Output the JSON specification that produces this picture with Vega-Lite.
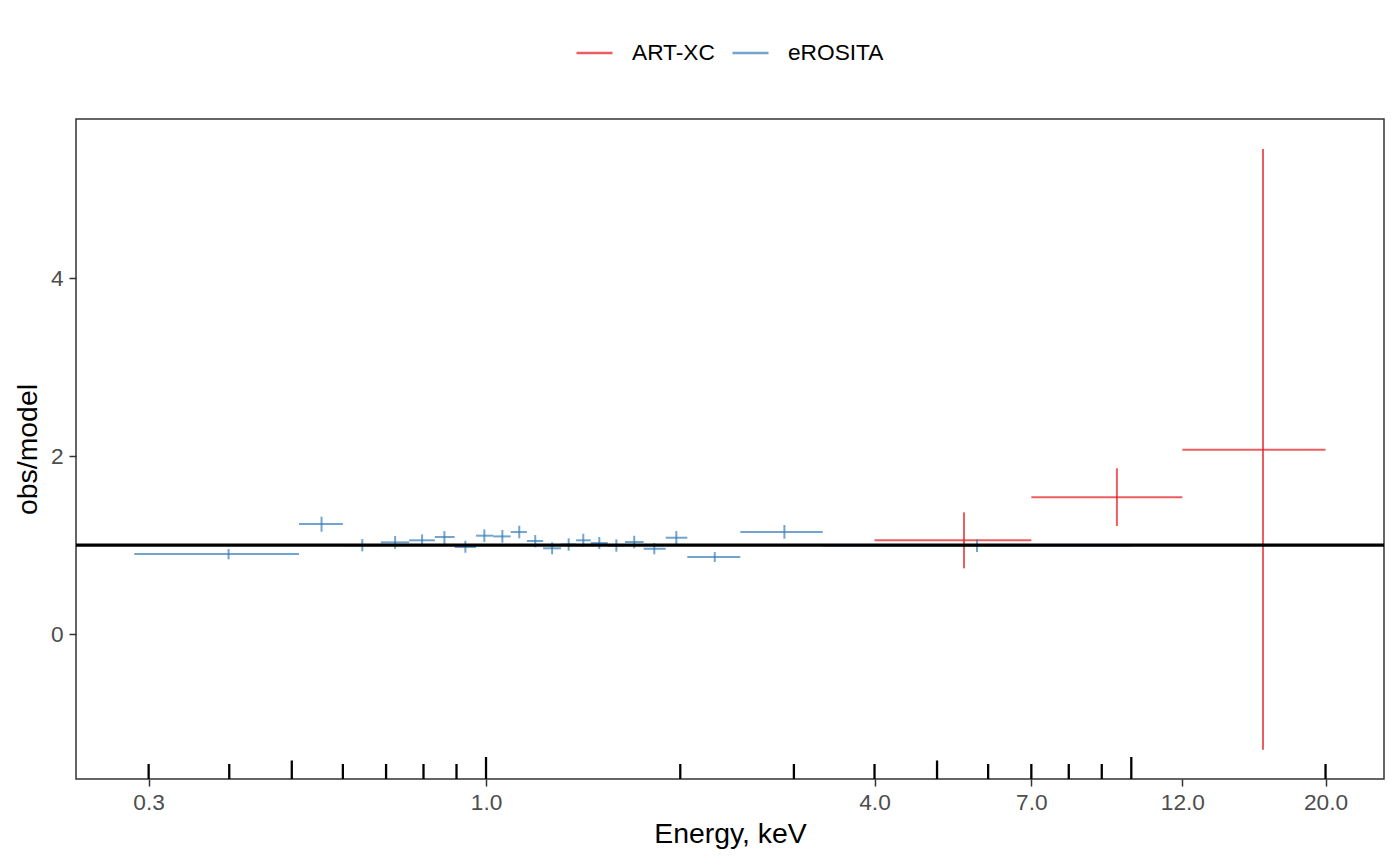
{
  "$schema": "https://vega.github.io/schema/vega-lite/v6.json",
  "width": 1308,
  "height": 660,
  "autosize": {"type": "none"},
  "padding": {"left": 76, "top": 119, "right": 16, "bottom": 86},
  "background": "white",
  "config": {
    "font": "Liberation Sans",
    "view": {"stroke": "#333333", "strokeWidth": 1.5},
    "axis": {
      "grid": false,
      "domain": false,
      "tickColor": "#333333",
      "tickWidth": 1.5,
      "tickSize": 7,
      "labelFontSize": 22.7,
      "labelColor": "#4D4D4D",
      "titleFontSize": 28.4,
      "titleFontWeight": "normal",
      "titleColor": "black",
      "labelPadding": 5,
      "titlePadding": 7
    }
  },
  "datasets": {
    "spec": [
      {"inst": "eROSITA", "E": 0.399, "Emin": 0.285, "Emax": 0.513, "ratio": 0.899, "lo": 0.839, "hi": 0.955},
      {"inst": "eROSITA", "E": 0.556, "Emin": 0.513, "Emax": 0.600, "ratio": 1.236, "lo": 1.149, "hi": 1.318},
      {"inst": "eROSITA", "E": 0.643, "Emin": 0.600, "Emax": 0.687, "ratio": 0.998, "lo": 0.929, "hi": 1.067},
      {"inst": "eROSITA", "E": 0.723, "Emin": 0.687, "Emax": 0.760, "ratio": 1.030, "lo": 0.958, "hi": 1.101},
      {"inst": "eROSITA", "E": 0.796, "Emin": 0.760, "Emax": 0.833, "ratio": 1.053, "lo": 1.008, "hi": 1.120},
      {"inst": "eROSITA", "E": 0.862, "Emin": 0.833, "Emax": 0.894, "ratio": 1.090, "lo": 1.011, "hi": 1.157},
      {"inst": "eROSITA", "E": 0.929, "Emin": 0.894, "Emax": 0.965, "ratio": 0.978, "lo": 0.913, "hi": 1.048},
      {"inst": "eROSITA", "E": 0.994, "Emin": 0.965, "Emax": 1.026, "ratio": 1.105, "lo": 1.034, "hi": 1.176},
      {"inst": "eROSITA", "E": 1.060, "Emin": 1.026, "Emax": 1.092, "ratio": 1.097, "lo": 1.026, "hi": 1.169},
      {"inst": "eROSITA", "E": 1.126, "Emin": 1.092, "Emax": 1.157, "ratio": 1.146, "lo": 1.075, "hi": 1.217},
      {"inst": "eROSITA", "E": 1.192, "Emin": 1.157, "Emax": 1.226, "ratio": 1.045, "lo": 0.974, "hi": 1.112},
      {"inst": "eROSITA", "E": 1.266, "Emin": 1.226, "Emax": 1.307, "ratio": 0.963, "lo": 0.896, "hi": 1.030},
      {"inst": "eROSITA", "E": 1.343, "Emin": 1.307, "Emax": 1.379, "ratio": 1.006, "lo": 0.936, "hi": 1.075},
      {"inst": "eROSITA", "E": 1.415, "Emin": 1.379, "Emax": 1.453, "ratio": 1.053, "lo": 0.978, "hi": 1.127},
      {"inst": "eROSITA", "E": 1.498, "Emin": 1.453, "Emax": 1.544, "ratio": 1.022, "lo": 0.955, "hi": 1.090},
      {"inst": "eROSITA", "E": 1.592, "Emin": 1.544, "Emax": 1.642, "ratio": 0.994, "lo": 0.925, "hi": 1.064},
      {"inst": "eROSITA", "E": 1.697, "Emin": 1.642, "Emax": 1.755, "ratio": 1.034, "lo": 0.963, "hi": 1.104},
      {"inst": "eROSITA", "E": 1.823, "Emin": 1.755, "Emax": 1.899, "ratio": 0.958, "lo": 0.896, "hi": 1.022},
      {"inst": "eROSITA", "E": 1.972, "Emin": 1.899, "Emax": 2.051, "ratio": 1.082, "lo": 1.011, "hi": 1.157},
      {"inst": "eROSITA", "E": 2.262, "Emin": 2.051, "Emax": 2.478, "ratio": 0.865, "lo": 0.809, "hi": 0.921},
      {"inst": "eROSITA", "E": 2.900, "Emin": 2.478, "Emax": 3.325, "ratio": 1.146, "lo": 1.071, "hi": 1.225},
      {"inst": "eROSITA", "E": 5.766, "Emin": 3.325, "Emax": 10.0, "ratio": 0.995, "lo": 0.921, "hi": 1.064},
      {"inst": "ART-XC", "E": 5.505, "Emin": 4.0, "Emax": 7.0, "ratio": 1.053, "lo": 0.738, "hi": 1.367},
      {"inst": "ART-XC", "E": 9.50, "Emin": 7.0, "Emax": 12.0, "ratio": 1.536, "lo": 1.213, "hi": 1.862},
      {"inst": "ART-XC", "E": 16.0, "Emin": 12.0, "Emax": 20.0, "ratio": 2.071, "lo": -1.30, "hi": 5.449}
    ],
    "logticks": [
      {"E": 0.3, "kind": "short"},
      {"E": 0.4, "kind": "short"},
      {"E": 0.5, "kind": "mid"},
      {"E": 0.6, "kind": "short"},
      {"E": 0.7, "kind": "short"},
      {"E": 0.8, "kind": "short"},
      {"E": 0.9, "kind": "short"},
      {"E": 1, "kind": "long"},
      {"E": 2, "kind": "short"},
      {"E": 3, "kind": "short"},
      {"E": 4, "kind": "short"},
      {"E": 5, "kind": "mid"},
      {"E": 6, "kind": "short"},
      {"E": 7, "kind": "short"},
      {"E": 8, "kind": "short"},
      {"E": 9, "kind": "short"},
      {"E": 10, "kind": "long"},
      {"E": 20, "kind": "short"}
    ]
  },
  "layer": [
    {
      "data": {"name": "spec"},
      "mark": {"type": "rule", "strokeWidth": 2, "opacity": 0.7},
      "encoding": {
        "x": {
          "field": "Emin", "type": "quantitative",
          "scale": {"type": "log", "domain": [0.2315, 24.64], "nice": false},
          "axis": {"values": [0.3, 1, 4, 7, 12, 20], "format": ".1f", "labelFlush": false, "labelOverlap": false},
          "title": "Energy, keV"
        },
        "x2": {"field": "Emax"},
        "y": {
          "field": "ratio", "type": "quantitative",
          "scale": {"domain": [-1.629, 5.787], "nice": false, "zero": false},
          "axis": {"values": [0, 2, 4], "format": "d", "labelPadding": 6, "titlePadding": 8},
          "title": "obs/model"
        },
        "color": {
          "field": "inst", "type": "nominal",
          "scale": {"domain": ["ART-XC", "eROSITA"], "range": ["#E41A1C", "#377EB8"]},
          "title": null,
          "legend": {
            "orient": "none", "legendX": 499, "legendY": -86,
            "direction": "horizontal",
            "symbolType": "stroke", "symbolSize": 1296, "symbolStrokeWidth": 2.5,
            "symbolOpacity": 1,
            "labelFontSize": 22.7, "labelColor": "black",
            "labelOffset": 18, "columnPadding": 12, "padding": 0
          }
        }
      }
    },
    {
      "data": {"name": "spec"},
      "mark": {"type": "rule", "strokeWidth": 2, "opacity": 0.7},
      "encoding": {
        "x": {"field": "E", "type": "quantitative"},
        "y": {"field": "lo", "type": "quantitative"},
        "y2": {"field": "hi"},
        "color": {"field": "inst", "type": "nominal"}
      }
    },
    {
      "data": {"values": [{}]},
      "mark": {"type": "rule", "color": "black", "strokeWidth": 3.2},
      "encoding": {"y": {"datum": 1}}
    },
    {
      "data": {"name": "logticks"},
      "mark": {"type": "tick", "orient": "vertical", "color": "black", "thickness": 2.3, "clip": true, "opacity": 1},
      "encoding": {
        "x": {"field": "E", "type": "quantitative"},
        "y": {"datum": -1.629},
        "size": {
          "field": "kind", "type": "nominal",
          "scale": {"domain": ["long", "mid", "short"], "range": [44, 30, 15]},
          "legend": null
        }
      }
    }
  ]
}
